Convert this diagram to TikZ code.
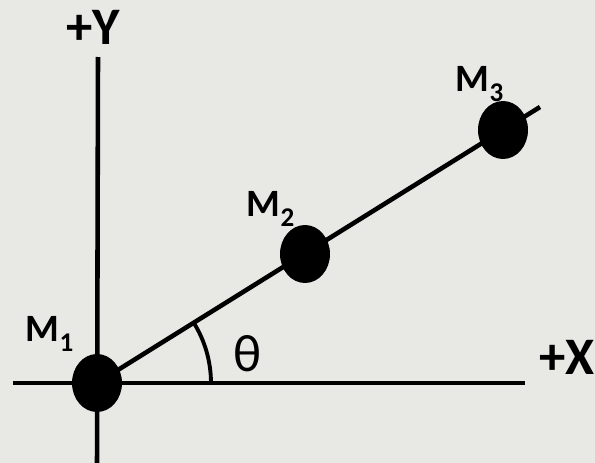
\documentclass[tikz,border=0pt]{standalone}
\usepackage{fontspec}
\setmainfont{Carlito}
\usetikzlibrary{positioning, shapes.geometric}
\definecolor{paperBg}{RGB}{232,232,229}

\begin{document}
\begin{tikzpicture}[x=0.02cm, y=-0.02cm, line width=2.6pt,
    mass/.style={ellipse, fill=black, inner sep=0pt, minimum width=1cm, minimum height=1.16cm},
    massLabel/.style={font=\fontsize{22}{24}\selectfont\bfseries, inner sep=0pt},
    axisLabel/.style={font=\fontsize{30}{32}\selectfont\bfseries, inner sep=0pt}]
  \fill[paperBg] (0,0) rectangle (595,463);
  \useasboundingbox (0,0) rectangle (595,463);

  % axes
  \coordinate (yTop) at (98,57);
  \coordinate (yBot) at (97,470);
  \coordinate (xLeft) at (13,383);
  \coordinate (xRight) at (525,383);
  \draw (yTop) -- (yBot);
  \draw (xLeft) -- (xRight);

  % masses on the rod
  \node[mass] (m1) at (97,383) {};
  \node[mass] (m2) at (305,254) {};
  \node[mass] (m3) at (503,130) {};
  \coordinate (rodEnd) at (540,107);
  \draw (m1.center) -- (rodEnd);

  \draw[line width=2.2pt] ([shift={(0:2.28cm)}]m1.center)
    arc[start angle=0, end angle=32, radius=2.28cm];

  \node[massLabel] (m1lab) at (50,334) {M\raisebox{-3pt}{\textsubscript{1}}};
  \node[massLabel] (m2lab) at (271,209) {M\raisebox{-3pt}{\textsubscript{2}}};
  \node[massLabel] (m3lab) at (480,84) {M\raisebox{-3pt}{\textsubscript{3}}};
  \node[font=\fontsize{30}{32}\selectfont, inner sep=0pt] (theta) at (248,354) {θ};
  \node[axisLabel] (ylab) at (93,27) {+Y};
  \node[axisLabel] (xlab) at (567,357) {+X};
\end{tikzpicture}
\end{document}
